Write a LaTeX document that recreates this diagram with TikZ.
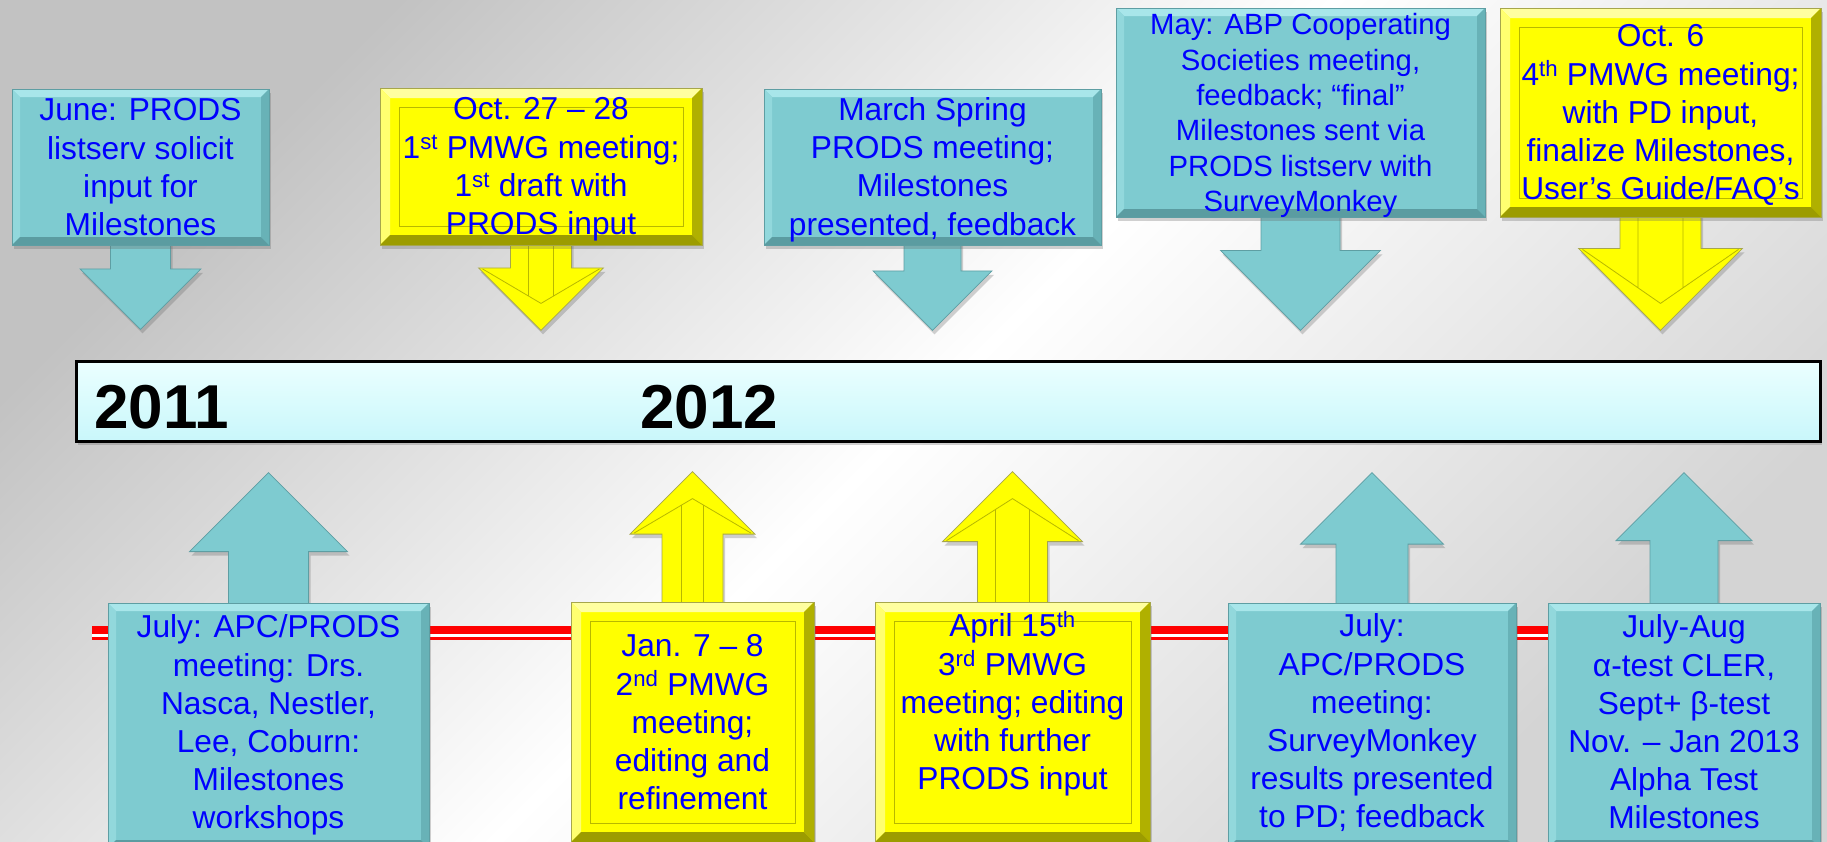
\documentclass[tikz,border=0pt]{standalone}
\usepackage{fontspec}
\setmainfont{Liberation Sans}
\usetikzlibrary{positioning,calc,shadows}
\definecolor{tealface}{HTML}{7ECBD0}
\definecolor{tealedge}{HTML}{5E9EA3}
\definecolor{teallight}{HTML}{A8E6EA}
\definecolor{tealleft}{HTML}{92D8DC}
\definecolor{tealright}{HTML}{68B2B7}
\definecolor{tealdark}{HTML}{5B9CA1}
\definecolor{yelface}{HTML}{FFFF00}
\definecolor{yeledge}{HTML}{A6A64C}
\definecolor{yellight}{HTML}{FFFFA0}
\definecolor{yelleft}{HTML}{FFFF70}
\definecolor{yelright}{HTML}{B0B000}
\definecolor{yeldark}{HTML}{9C9C00}
\definecolor{yelrule}{HTML}{B8B800}
\definecolor{barhi}{HTML}{EBFFFF}
\definecolor{barlo}{HTML}{C9F7FB}
\pgfdeclarelayer{back}
\pgfdeclarelayer{mid}
\pgfsetlayers{back,mid,main}
\tikzset{
  bevel/.style n args={6}{path picture={
    \coordinate (nw) at (path picture bounding box.north west);
    \coordinate (ne) at (path picture bounding box.north east);
    \coordinate (sw) at (path picture bounding box.south west);
    \coordinate (se) at (path picture bounding box.south east);
    \fill[#1] (nw) -- (ne) -- ([xshift=-#5,yshift=-#5]ne) -- ([xshift=#5,yshift=-#5]nw) -- cycle;
    \fill[#2] (nw) -- (sw) -- ([xshift=#5,yshift=#5]sw) -- ([xshift=#5,yshift=-#5]nw) -- cycle;
    \fill[#3] (ne) -- (se) -- ([xshift=-#5,yshift=#5]se) -- ([xshift=-#5,yshift=-#5]ne) -- cycle;
    \fill[#4] (sw) -- (se) -- ([xshift=-#5,yshift=#5]se) -- ([xshift=#5,yshift=#5]sw) -- cycle;
    \draw[#6] ([xshift=19pt,yshift=-19pt]nw) rectangle ([xshift=-19pt,yshift=19pt]se);}},
  shad/.style={drop shadow={shadow xshift=2pt,shadow yshift=-4pt,opacity=.3,fill=black!60}},
  tealbox/.style={draw=tealedge,line width=.8pt,fill=tealface,shad,inner sep=0pt,
    bevel={teallight}{tealleft}{tealright}{tealdark}{8pt}{draw=none}},
  yelbox/.style={draw=yeledge,line width=.8pt,fill=yelface,shad,inner sep=0pt,
    bevel={yellight}{yelleft}{yelright}{yeldark}{10pt}{draw=yelrule,line width=.8pt}},
  tealarrow/.style={fill=tealface,draw=tealedge,line width=.8pt,shad},
  yelarrow/.style={fill=yelface,draw=yeledge,line width=.8pt,shad},
  yelline/.style={draw=yelrule,line width=.8pt}
}
\begin{document}
\begin{tikzpicture}[x=1pt,y=-1pt,
   txt/.style={align=center,inner sep=0pt,text=blue,font=\fontsize{31.7}{38.2}\selectfont},
   yr/.style={anchor=base west,inner sep=0pt,font=\fontsize{62}{74}\selectfont\bfseries}]
  \useasboundingbox (0,0) rectangle (1827,841);
  \clip (0,0) rectangle (1827,841);

  % ---- timeline bar ----
  \node[draw=black,line width=3pt,top color=barhi,bottom color=barlo,shad,inner sep=0pt,
        minimum width=1744pt,minimum height=80pt] (bar) at (948,401) {};
  \node[yr] (y2011) at (94,428) {2011};
  \node[yr] (y2012) at (640,428) {2012};

  % ---- boxes above the bar ----
  \node[tealbox,minimum width=257pt,minimum height=156pt] (t1) at (140.5,167) {};
  \node[yelbox, minimum width=322pt,minimum height=157pt] (t2) at (541,166.5) {};
  \node[tealbox,minimum width=337pt,minimum height=156pt] (t3) at (932.5,167) {};
  \node[tealbox,minimum width=369pt,minimum height=209pt] (t4) at (1300.5,112.5) {};
  \node[yelbox, minimum width=321pt,minimum height=209pt] (t5) at (1660.5,112.5) {};

  % ---- boxes below the bar ----
  \node[tealbox,minimum width=321pt,minimum height=245pt] (b1) at (268.5,725.5) {};
  \node[yelbox, minimum width=243pt,minimum height=240pt] (b2) at (692.5,722) {};
  \node[yelbox, minimum width=275pt,minimum height=240pt] (b3) at (1012.5,722) {};
  \node[tealbox,minimum width=288pt,minimum height=245pt] (b4) at (1372,725.5) {};
  \node[tealbox,minimum width=272pt,minimum height=245pt] (b5) at (1684,725.5) {};

  % ---- texts ----
  \node[txt,below=5.3pt of t1.north] (t1txt) {\strut June: PRODS\\listserv solicit\\input for\\Milestones};
  \node[txt,below=5.3pt of t2.north] (t2txt) {\strut Oct. 27 – 28\\1\textsuperscript{st} PMWG meeting;\\1\textsuperscript{st} draft with\\PRODS input};
  \node[txt,below=5pt of t3.north] (t3txt) {\strut March Spring\\PRODS meeting;\\Milestones\\presented, feedback};
  \node[txt,font=\fontsize{29.3}{35.3}\selectfont,below=2.3pt of t4.north] (t4txt)
    {\strut May: ABP Cooperating\\Societies meeting,\\feedback; “final”\\Milestones sent via\\PRODS listserv with\\SurveyMonkey};
  \node[txt,below=12.3pt of t5.north] (t5txt) {\strut Oct. 6\\4\textsuperscript{th} PMWG meeting;\\with PD input,\\finalize Milestones,\\User’s Guide/FAQ’s};
  \node[txt,below=8.3pt of b1.north] (b1txt) {\strut July: APC/PRODS\\meeting: Drs.\\Nasca, Nestler,\\Lee, Coburn:\\Milestones\\workshops};
  \node[txt,below=28.3pt of b2.north] (b2txt) {\strut Jan. 7 – 8\\2\textsuperscript{nd} PMWG\\meeting;\\editing and\\refinement};
  \node[txt,below=8.3pt of b3.north] (b3txt) {\strut April 15\textsuperscript{th}\\3\textsuperscript{rd} PMWG\\meeting; editing\\with further\\PRODS input};
  \node[txt,below=7.3pt of b4.north] (b4txt) {\strut July:\\APC/PRODS\\meeting:\\SurveyMonkey\\results presented\\to PD; feedback};
  \node[txt,below=8.3pt of b5.north] (b5txt) {\strut July-Aug\\α-test CLER,\\Sept+ β-test\\Nov. – Jan 2013\\Alpha Test\\Milestones};

  % ---- callout arrows (behind the boxes) ----
  \begin{pgfonlayer}{mid}
    \foreach \n/\s/\h/\t/\c in {t1/30/60.5/84/tealarrow,t2/30.5/62.5/85/yelarrow,t3/28.5/59.5/85/tealarrow,
                                t4/39.5/80/113/tealarrow,t5/40.5/82/113/yelarrow}
      \filldraw[\c] ($(\n.south)+(-\s,-20)$) -- ($(\n.south)+(-\s,\t-\h)$) -- ($(\n.south)+(-\h,\t-\h)$)
        -- ($(\n.south)+(0,\t)$) -- ($(\n.south)+(\h,\t-\h)$) -- ($(\n.south)+(\s,\t-\h)$)
        -- ($(\n.south)+(\s,-20)$) -- cycle;
    \foreach \n/\s/\h/\c in {b1/40/79/tealarrow,b2/30.5/62.5/yelarrow,b3/35/70/yelarrow,
                             b4/36/71.5/tealarrow,b5/34/68/tealarrow}
      \filldraw[\c] ($(\n.north)+(-\s,20)$) -- ($(\n.north)+(-\s,\h-130)$) -- ($(\n.north)+(-\h,\h-130)$)
        -- ($(\n.north)+(0,-130)$) -- ($(\n.north)+(\h,\h-130)$) -- ($(\n.north)+(\s,\h-130)$)
        -- ($(\n.north)+(\s,20)$) -- cycle;
    % inner edges of the yellow arrows
    \foreach \n/\a/\i/\ap/\wx/\wy/\vy/\ey in {t2/south/12.5/58/58.5/23.5/50.6/-20,t5/south/22.5/86/78/32/70.4/-20,
                                              b2/north/11/-103/58.5/-68.5/-96.5/20,b3/north/17/-103/66/-61/-92.2/20}
      \draw[yelline] ($(\n.\a)+(-\wx,\wy)$) -- ($(\n.\a)+(0,\ap)$) -- ($(\n.\a)+(\wx,\wy)$)
        ($(\n.\a)+(-\i,\ey)$) -- ($(\n.\a)+(-\i,\vy)$)
        ($(\n.\a)+(\i,\ey)$) -- ($(\n.\a)+(\i,\vy)$);
  \end{pgfonlayer}

  % ---- backdrop and red rule ----
  \begin{pgfonlayer}{back}
    \shade[top color=black!24,bottom color=black!17,middle color=white,shading angle=45] (0,0) rectangle (1827,841);
    \coordinate (ruleL) at (92,632.9);
    \coordinate (ruleR) at (1700,632.9);
    \draw[red,line width=14.3pt] (ruleL) -- (ruleR);
    \draw[white,line width=2.7pt] ([yshift=-2.4pt]ruleL) -- ([yshift=-2.4pt]ruleR);
  \end{pgfonlayer}
\end{tikzpicture}
\end{document}
